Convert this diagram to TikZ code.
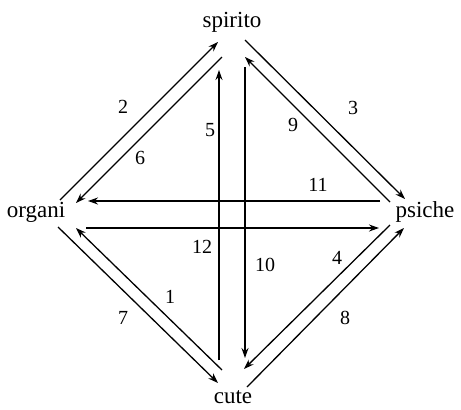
\documentclass[tikz,border=0pt]{standalone}
\usepackage{fontspec}
\setmainfont{Liberation Serif}
\usetikzlibrary{arrows.meta}
\begin{document}
\begin{tikzpicture}[x=1pt,y=-1pt,
  word/.style={font=\fontsize{23}{26}\selectfont, inner sep=0pt},
  num/.style={font=\fontsize{20}{22}\selectfont, inner sep=0pt},
  link/.style={line width=1.3pt, -{Stealth[length=10pt,width=7pt]}}]
\useasboundingbox (0,0) rectangle (461,410);
\node[word] (spirito) at (232,22) {spirito};
\node[word] (organi) at (36,212) {organi};
\node[word] (psiche) at (425,212) {psiche};
\node[word] (cute) at (233,397) {cute};
% endpoints
\coordinate (a2s) at (60,200);  \coordinate (a2e) at (218,42);
\coordinate (a6s) at (222,57);  \coordinate (a6e) at (76,203);
\coordinate (a3s) at (245,40);  \coordinate (a3e) at (405,199);
\coordinate (a9s) at (390,202); \coordinate (a9e) at (245,57);
\coordinate (a5s) at (219,360); \coordinate (a5e) at (219,70);
\coordinate (a10s) at (245,67); \coordinate (a10e) at (245,358);
\coordinate (a11s) at (380,201); \coordinate (a11e) at (88,201);
\coordinate (a12s) at (86,228); \coordinate (a12e) at (379,228);
\coordinate (a7s) at (58,227);  \coordinate (a7e) at (218,383);
\coordinate (a1s) at (222,370); \coordinate (a1e) at (76,228);
\coordinate (a4s) at (390,225); \coordinate (a4e) at (244,369);
\coordinate (a8s) at (247,387); \coordinate (a8e) at (404,228);
\draw[link] (a2s) -- (a2e);
\draw[link] (a6s) -- (a6e);
\draw[link] (a3s) -- (a3e);
\draw[link] (a9s) -- (a9e);
\draw[link] (a5s) -- (a5e);
\draw[link] (a10s) -- (a10e);
\draw[link] (a11s) -- (a11e);
\draw[link] (a12s) -- (a12e);
\draw[link] (a7s) -- (a7e);
\draw[link] (a1s) -- (a1e);
\draw[link] (a4s) -- (a4e);
\draw[link] (a8s) -- (a8e);
% labels
\node[num] (n2) at (123,107) {2};
\node[num] (n6) at (140,158) {6};
\node[num] (n5) at (210,130) {5};
\node[num] (n9) at (293,125) {9};
\node[num] (n3) at (353,108) {3};
\node[num] (n11) at (318,185) {11};
\node[num] (n12) at (202,247) {12};
\node[num] (n10) at (265,265) {10};
\node[num] (n4) at (337,258) {4};
\node[num] (n1) at (170,297) {1};
\node[num] (n7) at (123,318) {7};
\node[num] (n8) at (345,318) {8};
\end{tikzpicture}
\end{document}
